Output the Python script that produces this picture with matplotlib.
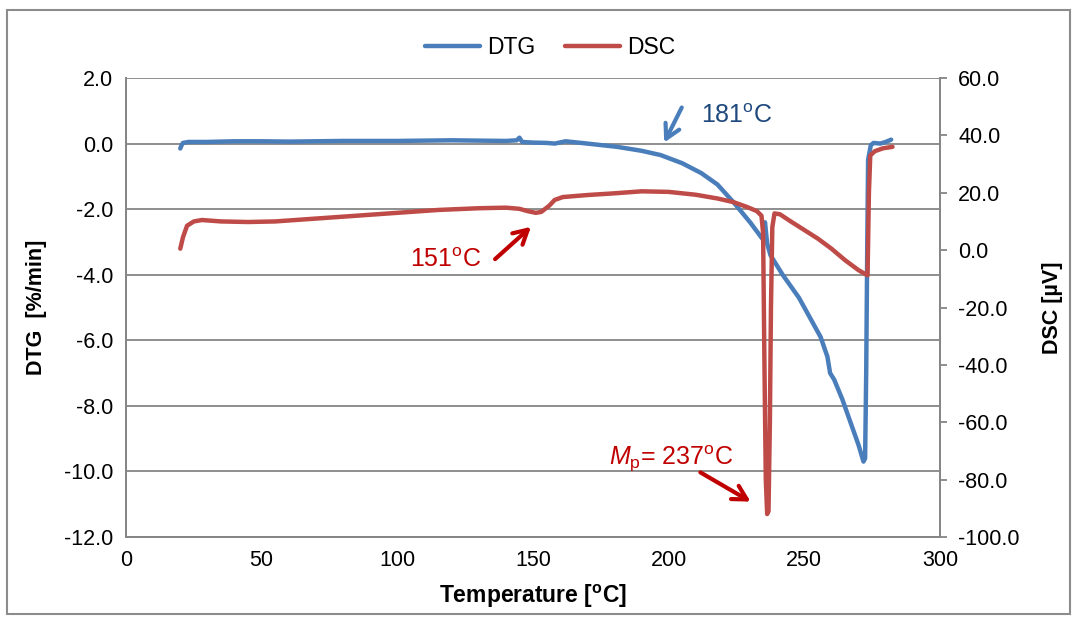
import matplotlib
matplotlib.use("Agg")
import matplotlib.pyplot as plt
from matplotlib.patches import Rectangle

plt.rcParams['font.family'] = ['Liberation Sans', 'DejaVu Sans']
plt.rcParams['mathtext.fontset'] = 'custom'
plt.rcParams['mathtext.rm'] = 'Liberation Sans'
plt.rcParams['mathtext.it'] = 'Liberation Sans:italic'
plt.rcParams['mathtext.bf'] = 'Liberation Sans:bold'

# ---- data ----
dtg_T = [20, 20.5, 21, 23, 30, 40, 50, 60, 80, 100, 120, 140, 144, 145, 146, 150, 155, 158,
         162, 170, 181, 190, 197, 205, 212, 218, 224, 230, 234.5, 235.5, 236.3, 237.5, 242,
         248, 252, 256, 258.5, 259.5, 261, 264, 267, 270, 271.8, 272.4, 272.8, 273.2, 273.5,
         274.5, 275.5, 278, 280, 282]
dtg_v = [-0.15, -0.05, 0.02, 0.05, 0.05, 0.07, 0.07, 0.06, 0.08, 0.08, 0.1, 0.08, 0.1, 0.18,
         0.05, 0.03, 0.02, 0.0, 0.07, 0.0, -0.1, -0.22, -0.35, -0.6, -0.9, -1.25, -1.8, -2.4,
         -2.9, -2.4, -3.05, -3.4, -4.0, -4.7, -5.3, -5.9, -6.5, -7.0, -7.2, -7.8, -8.5, -9.2,
         -9.7, -9.6, -7.0, -3.0, -0.5, -0.05, 0.02, 0.0, 0.05, 0.12]

dsc_T = [20, 21, 22.5, 25, 28, 35, 45, 55, 70, 85, 100, 115, 130, 140, 145, 148, 151, 153,
         156, 158, 161, 170, 180, 190, 200, 210, 218, 224, 229, 232.5, 234.2, 234.8, 235.3,
         235.8, 236.3, 236.8, 237.3, 237.7, 238.2, 239, 241, 245, 250, 255, 260, 265, 270,
         273.3, 273.8, 274.3, 276, 279, 282.5]
dsc_v = [0.5, 4.5, 8.5, 10, 10.5, 10, 9.8, 10, 11, 12, 13, 14, 14.6, 14.8, 14.4, 13.6, 13.0,
         13.3, 15.5, 17.5, 18.5, 19.2, 19.8, 20.5, 20.3, 19.3, 18, 16.7, 15, 13.6, 12, 6, -40,
         -80, -92, -91, -60, -20, 8, 12.8, 12.5, 10, 7, 4, 0.5, -3.5, -7, -8.8, 20, 33, 34.5,
         35.5, 36]

x_ticks = [0, 50, 100, 150, 200, 250, 300]
dtg_ticks = [2.0, 0.0, -2.0, -4.0, -6.0, -8.0, -10.0, -12.0]
dsc_ticks = [60.0, 40.0, 20.0, 0.0, -20.0, -40.0, -60.0, -80.0, -100.0]

BLUE = '#4A7EBB'
RED = '#BE4B48'
GRID = '#868686'
FS = 15.5
AFS = 18

fig = plt.figure(figsize=(10.76, 6.19), dpi=100)
fig.patches.append(Rectangle((7/1076, 1-614/619), 1063/1076, 604/619, transform=fig.transFigure,
                             fill=False, edgecolor='#8C8C8C', lw=1.5))
ax = fig.add_axes([126/1076, 1-537/619, 814/1076, 459/619])
ax2 = ax.twinx()

l1, = ax.plot(dtg_T, dtg_v, color=BLUE, lw=3.2, solid_capstyle='round', solid_joinstyle='round', label='DTG')
l2, = ax2.plot(dsc_T, dsc_v, color=RED, lw=3.2, solid_capstyle='round', solid_joinstyle='round', label='DSC')

ax.set_xlim(0, 300)
ax.set_ylim(-12, 2)
ax2.set_ylim(-100, 60)
ax.set_xticks(x_ticks)
ax.set_xticklabels([str(t) for t in x_ticks])
ax.set_yticks(dtg_ticks)
ax.set_yticklabels([f'{t:.1f}' for t in dtg_ticks])
ax2.set_yticks(dsc_ticks)
ax2.set_yticklabels([f'{t:.1f}' for t in dsc_ticks])

ax.grid(axis='y', color=GRID, lw=1.3)
ax.set_axisbelow(True)
for a in (ax, ax2):
    for s in a.spines.values():
        s.set_color(GRID)
        s.set_linewidth(1.3)
    a.spines['top'].set_visible(False)
ax.tick_params(axis='both', length=0, labelsize=FS, pad=9)
ax2.tick_params(axis='y', length=5, width=1.3, color=GRID, labelsize=FS, pad=8)

ax.set_xlabel('Temperature [$^{\\mathbf{o}}$C]', fontsize=FS + 1, fontweight='bold', labelpad=9)
ax.set_ylabel('DTG  [%/min]', fontsize=FS, fontweight='bold', labelpad=12)
ax2.set_ylabel('DSC [µV]', fontsize=FS, fontweight='bold', labelpad=16)

fig.legend(handles=[l1, l2], loc='center', bbox_to_anchor=(550/1076, 1-48/619), ncol=2,
           frameon=False, fontsize=FS + 1, handlelength=2.4, columnspacing=1.3, handletextpad=0.3)

def fx(px):
    return px / 1076
def fy(py):
    return 1 - py / 619

AP = dict(arrowstyle='->,head_length=1.0,head_width=0.55', lw=3.0)

fig.text(fx(737), fy(116), '181$^{\\mathrm{o}}$C', color='#1F497D', fontsize=AFS, ha='center', va='center')
ax.annotate('', xy=(fx(663), fy(145)), xytext=(fx(683), fy(105)), xycoords='figure fraction',
            textcoords='figure fraction', arrowprops=dict(color=BLUE, **AP))

fig.text(fx(446), fy(260), '151$^{\\mathrm{o}}$C', color='#C00000', fontsize=AFS, ha='center', va='center')
ax.annotate('', xy=(fx(533), fy(225)), xytext=(fx(493), fy(261)), xycoords='figure fraction',
            textcoords='figure fraction', arrowprops=dict(color='#C00000', **AP))

fig.text(fx(671), fy(459), '$M_{\\mathrm{p}}$= 237$^{\\mathrm{o}}$C', color='#C00000', fontsize=AFS,
         ha='center', va='center')
ax.annotate('', xy=(fx(753), fy(503)), xytext=(fx(698), fy(471)), xycoords='figure fraction',
            textcoords='figure fraction', arrowprops=dict(color='#C00000', **AP))

fig.savefig('out.png', dpi=100)
